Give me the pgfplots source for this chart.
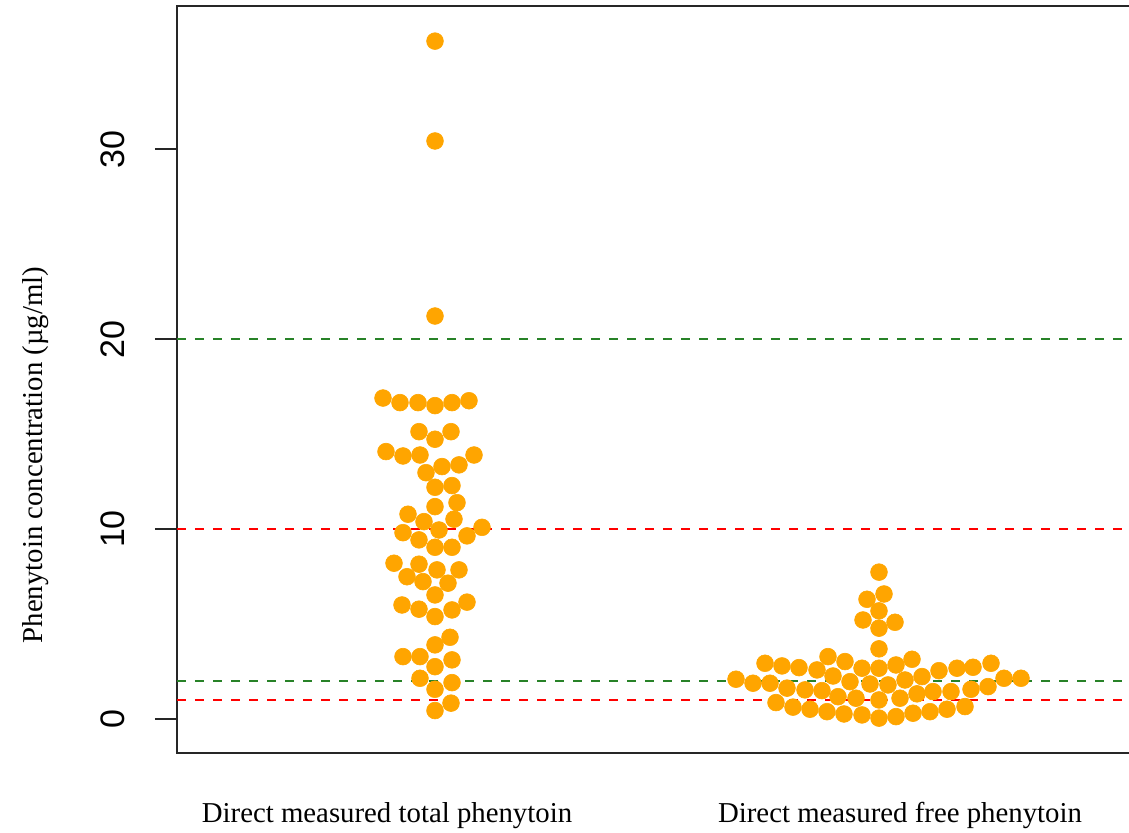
\documentclass[border=0pt]{standalone}
\usepackage{fontspec}
\setmainfont{Liberation Serif}
\newfontfamily\arialfont{Liberation Sans}
\usepackage{pgfplots}
\pgfplotsset{compat=1.18}
\usepackage{pgfplotstable}
\definecolor{ptorange}{HTML}{FFA500}
\definecolor{refgreen}{RGB}{40,130,40}
\definecolor{refred}{RGB}{255,0,0}

% x = horizontal position (beeswarm layout, pixel units), y = concentration
\pgfplotstableread{
x y
435 35.70
435 30.44
435 21.22
383 16.90
400 16.66
418 16.66
435 16.50
452 16.66
469 16.76
419 15.13
435 14.73
451 15.13
386 14.08
403 13.85
420 13.90
442 13.29
459 13.38
474 13.90
426 12.97
435 12.20
452 12.29
435 11.18
457 11.39
408 10.78
424 10.39
454 10.52
482 10.09
439 9.95
403 9.81
419 9.43
435 9.04
452 9.04
467 9.64
394 8.20
419 8.15
437 7.85
459 7.85
407 7.49
423 7.23
448 7.15
435 6.53
402 6.00
419 5.78
435 5.39
452 5.74
467 6.15
450 4.30
435 3.90
403 3.28
420 3.28
435 2.75
452 3.11
420 2.14
435 1.56
452 1.91
435 0.44
451 0.83
}\totaldata

\pgfplotstableread{
x y
879 7.73
884 6.58
867 6.30
879 5.69
863 5.21
895 5.09
879 4.78
879 3.69
765 2.93
782 2.79
799 2.70
817 2.58
828 3.28
845 3.02
862 2.67
879 2.67
896 2.84
912 3.14
939 2.54
957 2.67
973 2.72
991 2.93
736 2.09
753 1.88
770 1.88
833 2.26
850 1.96
870 1.84
888 1.79
905 2.05
922 2.23
1004 2.14
1021 2.14
787 1.62
805 1.53
822 1.49
838 1.17
856 1.09
879 1.00
900 1.09
917 1.32
933 1.44
951 1.44
971 1.56
988 1.70
776 0.86
793 0.62
810 0.51
827 0.38
844 0.26
862 0.21
879 0.04
896 0.12
913 0.30
930 0.38
947 0.51
965 0.65
}\freedata

\begin{document}
\begin{tikzpicture}
\begin{axis}[
  scale only axis,
  width=478pt, height=373.25pt,
  xmin=177, xmax=1133,
  ymin=-1.77, ymax=37.55,
  axis line style={line width=1pt, black!85},
  xtick={387,900},
  xticklabels={Direct measured total phenytoin, Direct measured free phenytoin},
  xticklabel style={font=\fontsize{14.4}{14.4}\selectfont, anchor=base, inner sep=0pt},
  x tick style={draw=none},
  xticklabel shift=23.75pt,
  ytick={0,10,20,30},
  tick align=outside,
  major tick length=11pt,
  y tick style={line width=1pt, black!85},
  xtick pos=bottom,
  ytick pos=left,
  yticklabel style={font=\fontsize{17}{17}\selectfont\arialfont, rotate=90, anchor=base, inner sep=0pt},
  yticklabel shift=15pt,
  /pgf/number format/assume math mode=true,
  clip=false,
]
\addplot[only marks, mark=*, mark size=4.2pt,
  mark options={fill=ptorange, draw=ptorange, line width=0.3pt}] table[x=x, y=y] {\totaldata};
\addplot[only marks, mark=*, mark size=4.2pt,
  mark options={fill=ptorange, draw=ptorange, line width=0.3pt}] table[x=x, y=y] {\freedata};
\addplot[refgreen, line width=1pt, dash pattern=on 4.5pt off 4.5pt] coordinates {(177,20) (1133,20)};
\addplot[refgreen, line width=1pt, dash pattern=on 4.5pt off 4.5pt] coordinates {(177,2) (1133,2)};
\addplot[refred, line width=1pt, dash pattern=on 4.5pt off 4.5pt] coordinates {(177,10) (1133,10)};
\addplot[refred, line width=1pt, dash pattern=on 4.5pt off 4.5pt] coordinates {(177,1) (1133,1)};
\end{axis}
\node[rotate=90, anchor=base, font=\fontsize{14.4}{14.4}\selectfont]
  at ([xshift=-67.25pt,yshift=148.75pt]current axis.south west) {Phenytoin concentration (µg/ml)};
\pgfresetboundingbox
\path[use as bounding box] ([xshift=-88.5pt,yshift=-39.75pt]current axis.south west)
  rectangle ([xshift=-2pt,yshift=3pt]current axis.north east);
\end{tikzpicture}
\end{document}
